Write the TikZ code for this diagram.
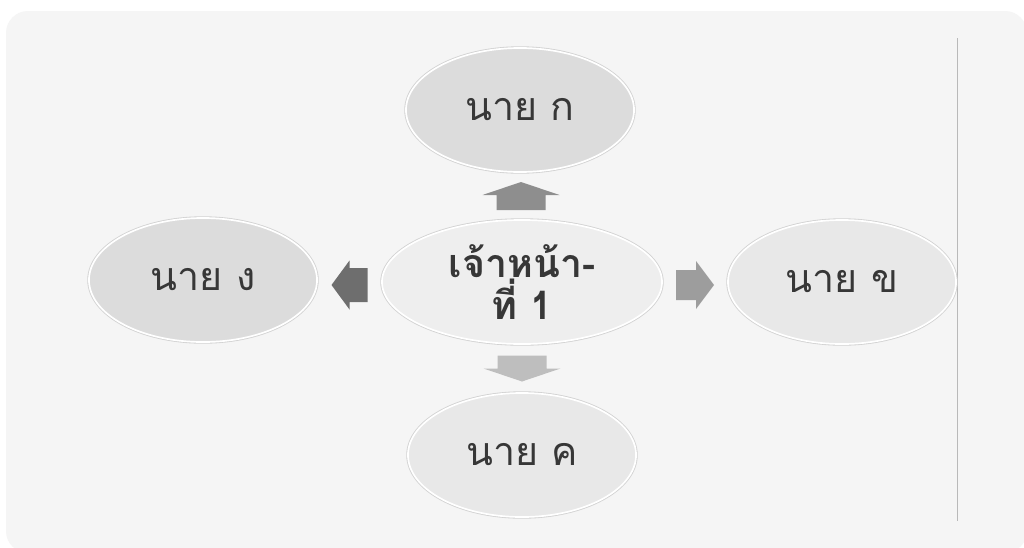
\documentclass[tikz,border=0pt]{standalone}
\usepackage{fontspec}
\newfontfamily\thaifont[Script=Thai]{Loma}
\usetikzlibrary{shapes.geometric,calc,positioning}
\definecolor{panbg}{RGB}{245,245,245}
\definecolor{elldark}{RGB}{220,220,220}
\definecolor{elllight}{RGB}{232,232,232}
\definecolor{ellcore}{RGB}{238,238,238}
\definecolor{txtgray}{RGB}{55,55,55}
\definecolor{arrup}{RGB}{142,142,142}
\definecolor{arrleft}{RGB}{110,110,110}
\definecolor{arrright}{RGB}{157,157,157}
\definecolor{arrdown}{RGB}{190,190,190}
\tikzset{
  pers/.style={ellipse, draw=white, line width=1.2pt,
               preaction={draw=gray!35, line width=2.4pt},
               minimum width=5.7cm, minimum height=3.1cm, inner sep=0pt,
               text=txtgray, font=\thaifont\fontsize{28}{32}\selectfont},
  boss/.style={pers, fill=ellcore, minimum width=7.0cm, align=center,
               font=\thaifont\bfseries\fontsize{28}{28}\selectfont},
  sep/.style={gray!55, line width=0.6pt},
}
% block arrow: colour, centre, direction, half length, head length, shaft half width, head half width
\newcommand{\blkarrow}[7]{%
  \fill[#1, shift={#2}, rotate=#3]
    (-#4,-#6) -- (#4-#5,-#6) -- (#4-#5,-#7) -- (#4,0) -- (#4-#5,#7) -- (#4-#5,#6) -- (-#4,#6) -- cycle;}

\begin{document}
\begin{tikzpicture}[x=0.025cm, y=-0.025cm]
    \useasboundingbox[fill=white] (0,0) rectangle (1024,547);
    \fill[panbg, rounded corners=0.55cm] (6,11) rectangle (1027,553);
    \draw[sep] (957.5,38) -- (957.5,521);

    \node[boss] (chief) at (522,282) {เจ้าหน้า-\\ที่ 1};
    \node[pers, fill=elldark] (naiA) at (520,110) {นาย ก};
    \node[pers, fill=elllight] (naiB) at (842,282) {นาย ข};
    \node[pers, fill=elllight] (naiC) at (522,455) {นาย ค};
    \node[pers, fill=elldark] (naiD) at (203,280) {นาย ง};

    \blkarrow{arrup}{($(chief.north)!0.5!(naiA.south)$)}{90}{14}{13}{24.5}{38.5}
    \blkarrow{arrdown}{($(chief.south)!0.5!(naiC.north)$)}{270}{13}{13}{24.5}{38.5}
    \blkarrow{arrleft}{($(chief.west)!0.5!(naiD.east)+(0,4)$)}{180}{18}{18}{17}{24.5}
    \blkarrow{arrright}{($(chief.east)!0.5!(naiB.west)+(0,3)$)}{0}{19}{18}{15}{24}
\end{tikzpicture}
\end{document}
